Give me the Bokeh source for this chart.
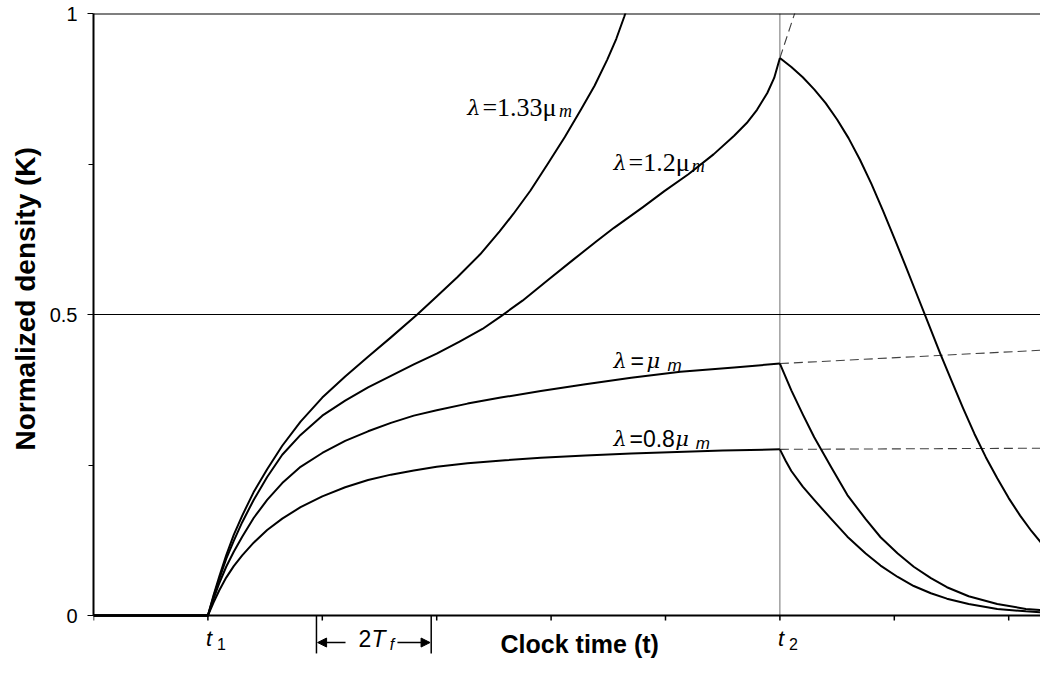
from bokeh.plotting import figure
from bokeh.models import Range1d, FixedTicker, Span, Arrow, NormalHead, Title
from bokeh.core.properties import value
from bokeh.embed import file_html
from bokeh.resources import INLINE

# ---------------- data ----------------
# lambda = 0.8 mu_m
rise_x_08 = [0, 1.0, 1.05, 1.10, 1.16, 1.226, 1.30, 1.40, 1.518, 1.65, 1.81, 2.00, 2.20, 2.40, 2.60, 2.80, 3.00, 3.27, 3.60, 3.91, 4.30, 4.70, 5.10, 5.50, 6.00]
rise_y_08 = [0, 0, 0.022, 0.042, 0.063, 0.082, 0.100, 0.121, 0.142, 0.161, 0.180, 0.198, 0.213, 0.225, 0.234, 0.241, 0.247, 0.253, 0.258, 0.262, 0.266, 0.269, 0.2715, 0.274, 0.276]
decay_x_08 = [6.00, 6.05, 6.10, 6.20, 6.30, 6.45, 6.59, 6.75, 6.88, 7.03, 7.17, 7.32, 7.46, 7.65, 7.90, 8.15, 8.42]
decay_y_08 = [0.276, 0.257, 0.240, 0.214, 0.192, 0.160, 0.131, 0.103, 0.083, 0.064, 0.049, 0.037, 0.028, 0.019, 0.011, 0.007, 0.004]
ext_x_08 = [6.0, 8.42]
ext_y_08 = [0.276, 0.278]

# lambda = mu_m
rise_x_mu = [0, 1.0, 1.05, 1.10, 1.16, 1.226, 1.30, 1.40, 1.518, 1.65, 1.81, 2.00, 2.20, 2.40, 2.60, 2.80, 3.00, 3.27, 3.56, 3.91, 4.30, 4.70, 5.13, 5.60, 6.00]
rise_y_mu = [0, 0, 0.028, 0.054, 0.081, 0.106, 0.131, 0.162, 0.192, 0.220, 0.247, 0.270, 0.290, 0.306, 0.320, 0.332, 0.341, 0.352, 0.362, 0.373, 0.384, 0.395, 0.405, 0.412, 0.4185]
decay_x_mu = [6.00, 6.10, 6.20, 6.30, 6.45, 6.59, 6.75, 6.88, 7.03, 7.17, 7.32, 7.46, 7.65, 7.90, 8.15, 8.42]
decay_y_mu = [0.4185, 0.374, 0.334, 0.296, 0.246, 0.200, 0.160, 0.130, 0.103, 0.081, 0.062, 0.047, 0.032, 0.019, 0.011, 0.007]
ext_x_mu = [6.0, 8.42]
ext_y_mu = [0.4185, 0.442]

# lambda = 1.2 mu_m
rise_x_12 = [0, 1.0, 1.05, 1.10, 1.16, 1.226, 1.30, 1.40, 1.518, 1.65, 1.81, 2.00, 2.20, 2.40, 2.60, 2.80, 3.00, 3.20, 3.40, 3.56, 3.75, 3.97, 4.20, 4.40, 4.55, 4.80, 4.99, 5.20, 5.42, 5.60, 5.71, 5.80, 5.89, 5.95, 6.00]
rise_y_12 = [0, 0, 0.032, 0.061, 0.094, 0.124, 0.155, 0.192, 0.230, 0.267, 0.300, 0.332, 0.357, 0.379, 0.398, 0.417, 0.435, 0.455, 0.476, 0.497, 0.523, 0.557, 0.592, 0.622, 0.644, 0.678, 0.705, 0.733, 0.766, 0.797, 0.818, 0.840, 0.868, 0.893, 0.926]
decay_x_12 = [6.00, 6.10, 6.20, 6.30, 6.40, 6.50, 6.60, 6.70, 6.80, 6.90, 7.00, 7.10, 7.20, 7.30, 7.40, 7.50, 7.60, 7.70, 7.80, 7.90, 8.00, 8.10, 8.20, 8.30, 8.42]
decay_y_12 = [0.926, 0.911, 0.894, 0.874, 0.851, 0.824, 0.793, 0.757, 0.717, 0.673, 0.627, 0.580, 0.532, 0.484, 0.436, 0.390, 0.345, 0.302, 0.263, 0.228, 0.195, 0.166, 0.140, 0.117, 0.093]
ext_x_12 = [6.0, 6.15]
ext_y_12 = [0.926, 1.012]

# lambda = 1.33 mu_m
rise_x_133 = [0, 1.0, 1.05, 1.10, 1.16, 1.226, 1.30, 1.40, 1.518, 1.65, 1.81, 2.00, 2.20, 2.40, 2.60, 2.83, 3.00, 3.18, 3.38, 3.55, 3.67, 3.82, 3.97, 4.12, 4.26, 4.38, 4.49, 4.57, 4.64, 4.70]
rise_y_133 = [0, 0, 0.034, 0.065, 0.100, 0.134, 0.166, 0.205, 0.243, 0.282, 0.322, 0.362, 0.397, 0.430, 0.462, 0.500, 0.530, 0.562, 0.600, 0.638, 0.667, 0.706, 0.750, 0.795, 0.840, 0.880, 0.923, 0.958, 0.995, 1.030]

x_ticks = [0, 1, 2, 3, 4, 5, 6, 7, 8]
y_ticks = [0, 0.5, 1]
y_tick_labels = {0: "0", 0.5: "0.5", 1: "1"}
t_marks = [(1, "1"), (6, "2")]
t2 = 6
tf_start, tf_end = 1.949, 2.952

# ---------------- figure ----------------
Y_LOW = -0.0714
p = figure(width=1040, height=658, output_backend="svg", toolbar_location=None,
           x_range=Range1d(0, 8.278), y_range=Range1d(Y_LOW, 1),
           min_border_left=93, min_border_right=0, min_border_top=13, min_border_bottom=0)
p.outline_line_color = None
p.xgrid.visible = False
p.ygrid.visible = False
p.xaxis.visible = False

SANS = "Liberation Sans"
SERIF = "Liberation Serif"
GREEK = "DejaVu Serif"

ya = p.yaxis[0]
ya.bounds = (0, 1)
ya.ticker = FixedTicker(ticks=y_ticks, minor_ticks=[0.25, 0.75])
ya.major_label_overrides = y_tick_labels
ya.axis_line_width = 2
ya.major_tick_in = 0
ya.major_tick_out = 6
ya.minor_tick_in = 0
ya.minor_tick_out = 5
ya.major_label_text_font = SANS
ya.major_label_text_font_size = "20px"
ya.major_label_text_color = "black"
ya.major_label_standoff = 10

p.add_layout(Title(text="Normalized density (K)", text_font=SANS, text_font_size="28px",
                   text_font_style="bold", text_color="black", align="left",
                   offset=208, standoff=12), "left")

# x axis line and ticks drawn at y = 0
p.add_layout(Span(location=0, dimension="width", line_color="black", line_width=2))
tick_len = 5 / 602
p.segment(x0=x_ticks, y0=[0] * len(x_ticks), x1=x_ticks, y1=[-tick_len] * len(x_ticks),
          line_color="black", line_width=1.5)

# reference lines
p.add_layout(Span(location=1, dimension="width", line_color="black", line_width=2))
p.add_layout(Span(location=0.5, dimension="width", line_color="black", line_width=1))
p.segment(x0=[t2], y0=[0], x1=[t2], y1=[1], line_color="#707070", line_width=1)

# dashed continuations
for xs, ys in [(ext_x_08, ext_y_08), (ext_x_mu, ext_y_mu), (ext_x_12, ext_y_12)]:
    p.line(xs, ys, line_color="#404040", line_width=1.1, line_dash="9 5")

# curves
for xs, ys in [(rise_x_08, rise_y_08), (decay_x_08, decay_y_08),
               (rise_x_mu, rise_y_mu), (decay_x_mu, decay_y_mu),
               (rise_x_12, rise_y_12), (decay_x_12, decay_y_12),
               (rise_x_133, rise_y_133)]:
    p.line(xs, ys, line_color="black", line_width=2, line_join="round")

def lab(x, y, text, font=SANS, size="20px", style="normal", xo=0):
    p.text(x=[x], y=[y], text=[text], text_font=value(font), text_font_size=size,
           text_font_style=style, text_color="black", x_offset=xo,
           text_baseline="alphabetic", text_align="left")

# curve labels
lab(3.266, 0.8434, "λ", GREEK, "21px", "italic")
lab(3.400, 0.8434, "=1.33μ", SERIF, "26px")
lab(4.070, 0.8384, "m", SERIF, "18px", "italic")

lab(4.545, 0.7519, "λ", GREEK, "21px", "italic")
lab(4.677, 0.7519, "=1.2μ", SERIF, "26px")
lab(5.230, 0.7475, "m", SERIF, "18px", "italic")

lab(4.545, 0.4232, "λ", GREEK, "21px", "italic")
lab(4.694, 0.4232, "=", SANS, "23px")
lab(4.835, 0.4232, "μ", GREEK, "21px", "italic")
lab(5.017, 0.4145, "m", SANS, "17px", "italic")

lab(4.545, 0.2937, "λ", GREEK, "21px", "italic")
lab(4.685, 0.2937, "=0.8", SANS, "23px")
lab(5.085, 0.2937, "μ", GREEK, "21px", "italic")
lab(5.265, 0.2854, "m", SANS, "17px", "italic")

# x tick labels t1, t2
for xv, sub in t_marks:
    lab(xv, -0.0382, "t", SANS, "22px", "italic", xo=-2)
    lab(xv, -0.0465, sub, SANS, "16px", "normal", xo=9)

# x axis label
lab(3.558, -0.0465, "Clock time (t)", SANS, "25px", "bold")

# 2T_f dimension marker
for xv in [tf_start, tf_end]:
    p.segment(x0=[xv], y0=[0], x1=[xv], y1=[-0.063], line_color="black", line_width=1.5)
p.add_layout(Arrow(end=NormalHead(size=9, fill_color="black", line_color="black"),
                   x_start=2.203, y_start=-0.0449, x_end=tf_start + 0.01, y_end=-0.0449,
                   line_color="black", line_width=1.5))
p.add_layout(Arrow(end=NormalHead(size=9, fill_color="black", line_color="black"),
                   x_start=2.657, y_start=-0.0449, x_end=tf_end - 0.01, y_end=-0.0449,
                   line_color="black", line_width=1.5))
lab(2.316, -0.0382, "2", SANS, "23px")
lab(2.430, -0.0382, "T", SANS, "23px", "italic")
lab(2.590, -0.0482, "f", SANS, "16px", "italic")

open("out.html", "w").write(file_html(p, INLINE))
